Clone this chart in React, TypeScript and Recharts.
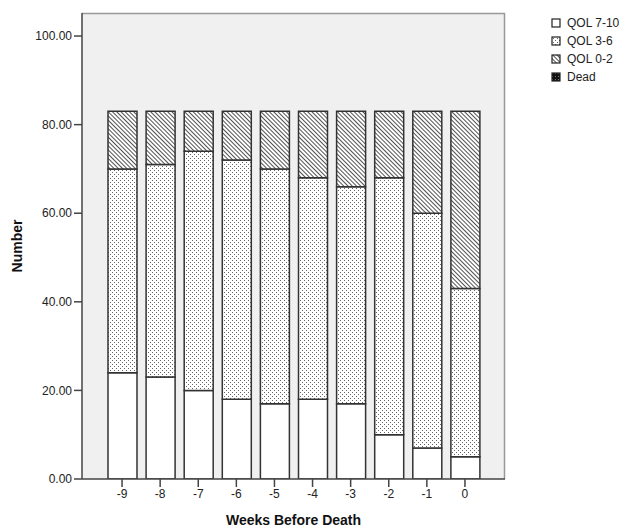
import React from "react";
import { BarChart, Bar, XAxis, YAxis, CartesianGrid } from "recharts";

// weeks before death, left to right
const weeks = ["-9", "-8", "-7", "-6", "-5", "-4", "-3", "-2", "-1", "0"];

// number of patients per QOL band (stacked bottom -> top)
const qol710 = [24, 23, 20, 18, 17, 18, 17, 10, 7, 5];
const qol36 = [46, 48, 54, 54, 53, 50, 49, 58, 53, 38];
const qol02 = [13, 12, 9, 11, 13, 15, 17, 15, 23, 40];
const dead = [0, 0, 0, 0, 0, 0, 0, 0, 0, 0];

const seriesNames = ["QOL 7-10", "QOL 3-6", "QOL 0-2", "Dead"];
const seriesKeys = ["q710", "q36", "q02", "dead"];
const seriesFills = ["#ffffff", "url(#dots)", "url(#hatch)", "url(#deadFill)"];

const yTicks = [0, 20, 40, 60, 80, 100];

const data = weeks.map((w, i) => ({
  week: w,
  q710: qol710[i],
  q36: qol36[i],
  q02: qol02[i],
  dead: dead[i],
}));

const FONT = "'Liberation Sans', Arial, sans-serif";

// legend drawn beside the plot, outside the chart layout
function LegendBox() {
  return (
    <div
      style={{
        position: "absolute",
        left: 551,
        top: 14,
        fontFamily: FONT,
        fontSize: 12,
        color: "#222",
      }}
    >
      {seriesNames.map((name, i) => (
        <div
          key={name}
          style={{ display: "flex", alignItems: "center", height: 18 }}
        >
          <svg width={10} height={10} style={{ marginRight: 6 }}>
            <rect
              x={1}
              y={1}
              width={8}
              height={8}
              fill={seriesFills[i]}
              stroke="#222"
              strokeWidth={1.2}
            />
          </svg>
          <span>{name}</span>
        </div>
      ))}
    </div>
  );
}

export default function App() {
  return (
    <div style={{ position: "absolute", left: 0, top: 0, width: 623, height: 527 }}>
      <BarChart
        width={623}
        height={527}
        data={data}
        margin={{ top: 13, right: 118, left: 0, bottom: 0 }}
        barCategoryGap={0}
        style={{ fontFamily: FONT }}
      >
        <defs>
          <pattern id="dots" width={4} height={4} patternUnits="userSpaceOnUse">
            <rect width={4} height={4} fill="#ffffff" />
            <rect x={0} y={0} width={1} height={1} fill="#666" />
            <rect x={2} y={2} width={1} height={1} fill="#666" />
          </pattern>
          <pattern
            id="hatch"
            width={3}
            height={3}
            patternUnits="userSpaceOnUse"
            patternTransform="rotate(-45)"
          >
            <rect width={3} height={3} fill="#ffffff" />
            <line x1={0} y1={0} x2={0} y2={3} stroke="#333" strokeWidth={1.7} />
          </pattern>
          <pattern id="deadFill" width={3} height={3} patternUnits="userSpaceOnUse">
            <rect width={3} height={3} fill="#111" />
            <rect x={1} y={1} width={1} height={1} fill="#777" />
          </pattern>
        </defs>
        <CartesianGrid
          fill="#f0f0f0"
          stroke="#999"
          strokeWidth={1.5}
          horizontalPoints={[13.5]}
          verticalPoints={[504.5]}
        />
        <XAxis
          dataKey="week"
          height={48}
          padding={{ left: 21, right: 21 }}
          tickSize={8}
          tickMargin={2}
          axisLine={{ stroke: "#444", strokeWidth: 1.5 }}
          tickLine={{ stroke: "#444", strokeWidth: 1.5 }}
          tick={{ fill: "#222", fontSize: 12 }}
          label={{
            value: "Weeks Before Death",
            position: "insideBottom",
            offset: 2,
            fill: "#111",
            fontSize: 14,
            fontWeight: "bold",
          }}
        />
        <YAxis
          width={82}
          domain={[0, 105.2]}
          ticks={yTicks}
          tickFormatter={(v: number) => v.toFixed(2)}
          tickSize={8}
          tickMargin={2}
          axisLine={{ stroke: "#444", strokeWidth: 1.5 }}
          tickLine={{ stroke: "#444", strokeWidth: 1.5 }}
          tick={{ fill: "#222", fontSize: 12 }}
          allowDataOverflow
          label={{
            content: (props: any) => {
              const vb = props.viewBox || { x: 0, y: 13, width: 82, height: 466 };
              const cx = vb.x + 17;
              const cy = vb.y + vb.height / 2;
              return (
                <text
                  x={cx}
                  y={cy}
                  transform={`rotate(-90 ${cx} ${cy})`}
                  textAnchor="middle"
                  dominantBaseline="central"
                  fill="#111"
                  fontSize={14}
                  fontWeight="bold"
                  fontFamily={FONT}
                >
                  Number
                </text>
              );
            },
          }}
        />
        {seriesKeys.map((key, i) => (
          <Bar
            key={key}
            dataKey={key}
            name={seriesNames[i]}
            stackId="a"
            barSize={29}
            fill={seriesFills[i]}
            stroke="#333"
            strokeWidth={1.5}
            isAnimationActive={false}
          />
        ))}
      </BarChart>
      <LegendBox />
    </div>
  );
}
